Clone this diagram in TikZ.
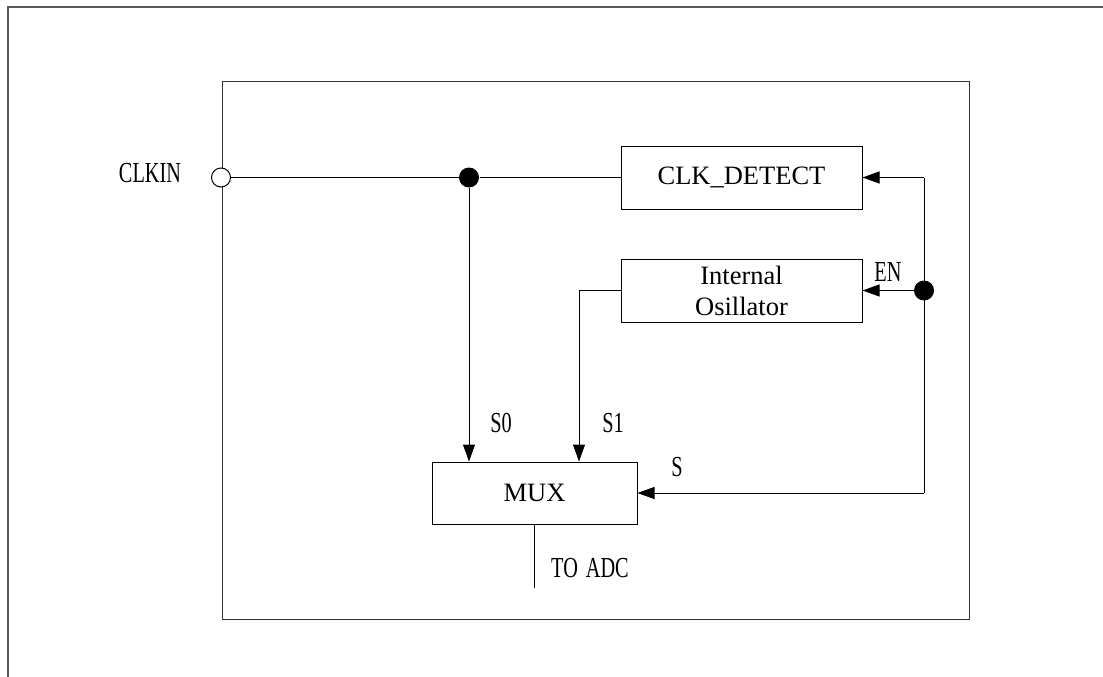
\documentclass[tikz,border=0pt]{standalone}
\usepackage{fontspec}
\setmainfont{Liberation Serif}
\newfontfamily\sigfont[FakeStretch=0.7]{Liberation Serif}
\usetikzlibrary{arrows.meta, positioning}

\begin{document}
\begin{tikzpicture}[x=1pt, y=-1pt, >={Triangle[length=17pt, width=12pt]}, line width=1pt,
    block/.style={draw, rectangle, inner sep=0pt, align=center, font=\fontsize{26.5}{31}\selectfont},
    sig/.style={inner sep=0pt, font=\sigfont\fontsize{29}{32}\selectfont},
    junction/.style={circle, fill, inner sep=0pt, minimum size=20pt}]
    \useasboundingbox (0,0) rectangle (1103,677);
    \draw[line width=1.5pt, black!65] (8,677) -- (8,7) -- (1103,7);
    \draw[black!80] (222,82) rectangle (969,619);

    \node[block, minimum width=241pt, minimum height=63pt] (detect) at (741.5,177.5) {CLK\_DETECT};
    \node[block, minimum width=241pt, minimum height=63pt] (osc) at (741.5,290.5) {Internal\\Osillator};
    \node[block, minimum width=205pt, minimum height=62pt] (mux) at (534.5,493) {MUX};
    \node[circle, draw, fill=white, inner sep=0pt, minimum size=19pt] (clkin) at (221,177.5) {};
    \node[junction] (split) at (469,177.5) {};
    \node[junction] (en) at (924,290.5) {};
    \coordinate (rtop) at (924,177.5);
    \coordinate (rbot) at (924,493);
    \coordinate (oscbend) at (579,290.5);
    \coordinate (adc) at (534.5,588);

    \draw (clkin) -- (split) -- (detect.west);
    \draw[->] (split) -- (split |- mux.north);
    \draw[->] (osc.west) -- (oscbend) -- (oscbend |- mux.north);
    \draw (rbot) -- (rtop);
    \draw[->] (rtop) -- (detect.east);
    \draw[->] (en) -- (osc.east);
    \draw[->] (rbot) -- (mux.east);
    \draw (mux.south) -- (adc);

    \node[sig] (clkinlabel) at (150,173.5) {CLKIN};
    \node[sig] (enlabel) at (888,272) {EN};
    \node[sig] (s0label) at (501,423) {S0};
    \node[sig] (s1label) at (613,423) {S1};
    \node[sig] (slabel) at (677,467) {S};
    \node[sig] (adclabel) at (590,568) {TO\hspace{8pt}ADC};
\end{tikzpicture}
\end{document}
